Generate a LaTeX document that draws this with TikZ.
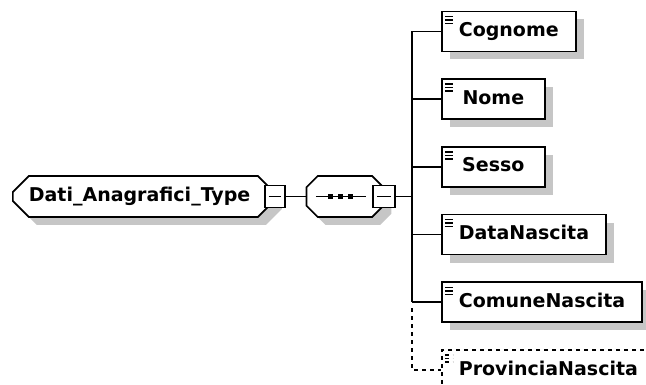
\documentclass[tikz,border=0pt]{standalone}
\usepackage{fontspec}
\setmainfont{DejaVu Sans}
\usetikzlibrary{positioning,shapes.misc,shadows}
\definecolor{shadowgray}{RGB}{198,198,198}

% small "element" mark in the upper left corner of a box
\newcommand\elemmark{%
  \foreach \d in {5,8.5,12}
    \draw[line width=1.4pt] ([xshift=3pt,yshift=-\d pt]path picture bounding box.north west) -- ++(8pt,0pt);}

\begin{document}
\begin{tikzpicture}[%
    x=1pt, y=-1pt,              % pixel-like units, y pointing down
    line width=1.7pt,
    font=\fontsize{19}{22}\selectfont\bfseries,
    node distance=26pt,         % gap between the element boxes
    ]
\tikzset{
  shade/.style={drop shadow={shadow xshift=8pt, shadow yshift=-8pt, fill=shadowgray, opacity=1}},
  group/.style={draw, fill=white, chamfered rectangle, chamfered rectangle xsep=8pt,
    chamfered rectangle ysep=8pt, minimum height=41pt, text height=14pt, text depth=4pt, shade},
  elem/.style={draw, fill=white, rectangle, minimum height=40pt, minimum width=103pt,
    inner xsep=17pt, text height=14pt, text depth=4pt, path picture={\elemmark}},
  minus/.style={draw, fill=white, rectangle, minimum width=20pt, minimum height=22pt, inner sep=0pt,
    path picture={\draw[line width=1.4pt] ([xshift=4pt]path picture bounding box.west)
      -- ([xshift=-4pt]path picture bounding box.east);}},
  opt/.style={dash pattern=on 4pt off 4pt},
}

\clip (0,0) rectangle (646,385);

\node [group, anchor=west, text width=229pt, align=left, inner xsep=8pt] (type) at (12,196.5) {Dati\_Anagrafici\_Type};
\node [minus] (typeminus) at (type.east) {};
\node [group, minimum width=77pt, right=20pt of typeminus] (seq) {};
\node [minus, minimum width=22pt] (seqminus) at (seq.east) {};

% sequence sign
\draw [line width=1.4pt] ([xshift=-29pt]seq.center) -- ([xshift=21pt]seq.center);
\foreach \d in {-14,-4,6}
  \fill ([xshift=\d pt]seq.center) +(-2.5pt,-2.5pt) rectangle +(2.5pt,2.5pt);

\node [elem, shade, anchor=west] (cognome) at (441,31.5) {Cognome};
\node [elem, shade, below=of cognome.south west, anchor=north west] (nome) {Nome};
\node [elem, shade, below=of nome.south west, anchor=north west] (sesso) {Sesso};
\node [elem, shade, below=of sesso.south west, anchor=north west] (datanascita) {DataNascita};
\node [elem, shade, below=of datanascita.south west, anchor=north west] (comunenascita) {ComuneNascita};
\node [elem, opt, below=of comunenascita.south west, anchor=north west] (provincianascita) {ProvinciaNascita};

\coordinate (trunk) at (412,196.5);

%connect
\draw (typeminus.east) -- (seq.west);
\draw (seqminus.east) -- (trunk);
\draw (trunk |- cognome.west) -- (trunk |- comunenascita.west);
\foreach \n in {cognome,nome,sesso,datanascita,comunenascita}
  \draw (trunk |- \n.west) -- (\n.west);
\draw [opt] ([yshift=-6pt]trunk |- comunenascita.west) -- (trunk |- provincianascita.west) -- (provincianascita.west);

\end{tikzpicture}
\end{document}
